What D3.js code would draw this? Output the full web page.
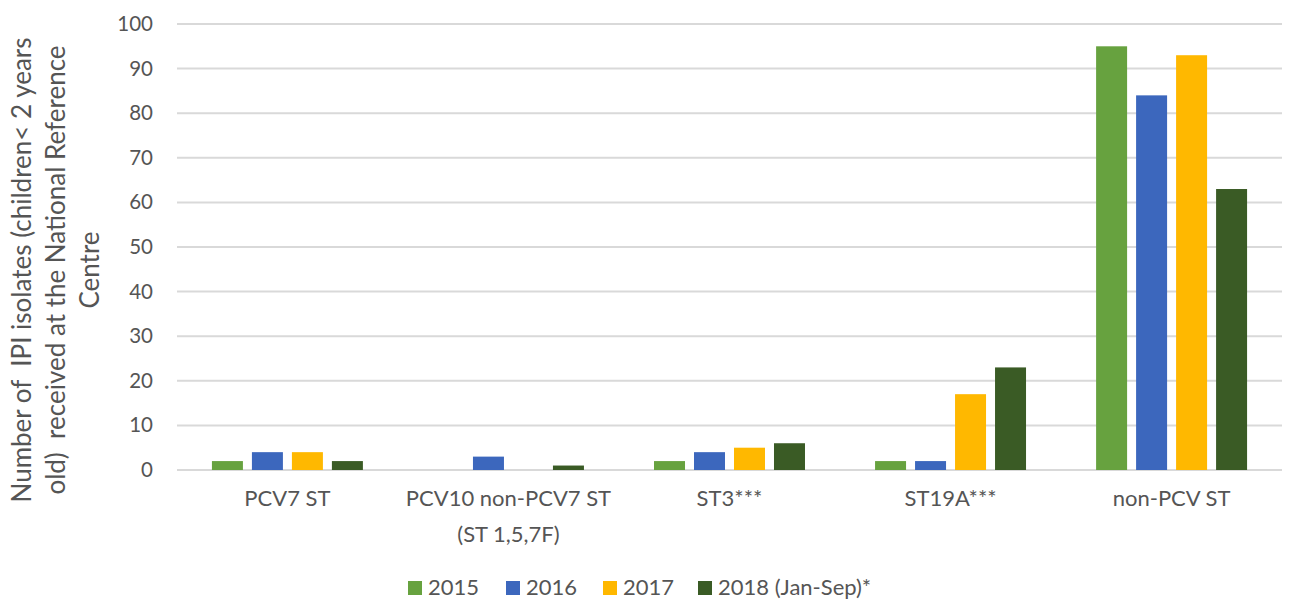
<!DOCTYPE html>
<html>
<head>
<meta charset="utf-8">
<script src="https://cdn.jsdelivr.net/npm/d3@7"></script>
<style>
  body { margin: 0; background: #fff; }
  text { font-family: Lato, "Open Sans", sans-serif; fill: #555; }
</style>
</head>
<body>
<div id="chart"></div>
<script>
const categories = ["PCV7 ST", "PCV10 non-PCV7 ST|(ST 1,5,7F)", "ST3***", "ST19A***", "non-PCV ST"];
const years = ["2015", "2016", "2017", "2018 (Jan-Sep)*"];
const v2015 = [2, 0, 2, 2, 95];
const v2016 = [4, 3, 4, 2, 84];
const v2017 = [4, 0, 5, 17, 93];
const v2018 = [2, 1, 6, 23, 63];
const yTicks = [0, 10, 20, 30, 40, 50, 60, 70, 80, 90, 100];
const colors = ["#67a23f", "#3c67bd", "#ffb800", "#3a5b25"];

const series = [v2015, v2016, v2017, v2018];

const W = 1289, H = 601;
const plot = {left: 177, right: 1282, top: 24, bottom: 470};

const svg = d3.select("#chart").append("svg")
  .attr("width", W).attr("height", H);

const y = d3.scaleLinear().domain([0, 100]).range([plot.bottom, plot.top]);

const x0 = d3.scaleBand().domain(d3.range(categories.length))
  .range([plot.left, plot.right])
  .paddingInner(0.317).paddingOuter(0.158);

const x1 = d3.scaleBand().domain(d3.range(years.length))
  .range([0, x0.bandwidth()])
  .paddingInner(0.225);

// gridlines
svg.append("g")
  .selectAll("line").data(yTicks).join("line")
  .attr("x1", plot.left).attr("x2", plot.right)
  .attr("y1", d => y(d)).attr("y2", d => y(d))
  .attr("stroke", "#d9d9d9").attr("stroke-width", 2);

// y axis labels
const yAxis = svg.append("g")
  .attr("transform", `translate(${plot.left - 24},0)`)
  .call(d3.axisLeft(y).tickValues(yTicks).tickSize(0).tickPadding(0));
yAxis.select(".domain").remove();
yAxis.selectAll("text")
  .style("font-size", "20.5px")
  .style("font-family", "Lato, sans-serif")
  .attr("fill", "#555");

// bars
const groups = svg.append("g")
  .selectAll("g").data(categories).join("g")
  .attr("transform", (d, i) => `translate(${x0(i)},0)`);

groups.selectAll("rect")
  .data((d, i) => series.map((s, j) => ({j: j, v: s[i]})))
  .join("rect")
  .attr("x", d => x1(d.j))
  .attr("width", x1.bandwidth())
  .attr("y", d => y(d.v))
  .attr("height", d => y(0) - y(d.v))
  .attr("fill", d => colors[d.j]);

// category labels
groups.append("text")
  .attr("x", x0.bandwidth() / 2)
  .attr("text-anchor", "middle")
  .style("font-size", "22px")
  .selectAll("tspan").data(d => d.split("|")).join("tspan")
  .attr("x", x0.bandwidth() / 2)
  .attr("y", (d, i) => 506 + i * 36)
  .text(d => d);

// y title
const title = ["Number of  IPI isolates (children< 2 years", "old)  received at the National Reference", "Centre"];
svg.append("text")
  .attr("transform", "translate(0,270) rotate(-90)")
  .attr("text-anchor", "middle")
  .style("font-size", "26px")
  .style("white-space", "pre")
  .selectAll("tspan").data(title).join("tspan")
  .attr("x", 0)
  .attr("y", (d, i) => 31 + i * 34)
  .text(d => d);

// legend
const legX = [408, 506, 603, 698];
const legend = svg.append("g").selectAll("g").data(years).join("g")
  .attr("transform", (d, i) => `translate(${legX[i]},588)`);
legend.append("rect")
  .attr("x", 0).attr("y", -7).attr("width", 14).attr("height", 14)
  .attr("fill", (d, i) => colors[i]);
legend.append("text")
  .attr("x", 20).attr("y", 7)
  .style("font-size", "22px")
  .text(d => d);
</script>
</body>
</html>
